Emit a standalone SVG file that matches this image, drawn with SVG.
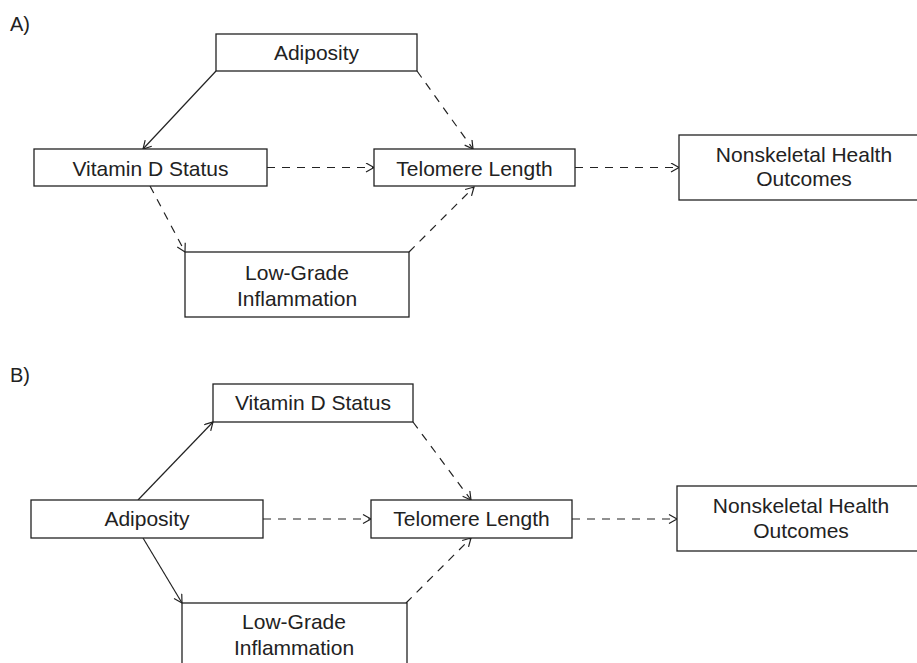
<svg xmlns="http://www.w3.org/2000/svg" width="917" height="663" viewBox="0 0 917 663">
<style>
.box{fill:#fff;stroke:#222;stroke-width:1.3}
.t{font-family:"Liberation Sans",Arial,sans-serif;font-size:21px;fill:#222;text-anchor:middle}
.lbl{font-family:"Liberation Sans",Arial,sans-serif;font-size:20px;fill:#222}
.c{fill:none;stroke:#222;stroke-width:1.2;marker-end:url(#ah)}
.d{stroke-dasharray:8,7}
</style>
<defs>
<marker id="ah" markerUnits="userSpaceOnUse" markerWidth="12" markerHeight="12" refX="9" refY="5" orient="auto">
<path d="M1,0.5 L9,5 L1,9.5" fill="none" stroke="#222" stroke-width="1.2"/>
</marker>
</defs>
<rect width="917" height="663" fill="#fff"/>
<text class="lbl" x="10" y="31">A)</text>
<text class="lbl" x="10" y="382">B)</text>
<g id="connectors">
<line class="c" x1="216" y1="71" x2="143" y2="149"/>
<line class="c d" x1="417" y1="71" x2="473" y2="149"/>
<line class="c d" x1="267" y1="167.5" x2="374" y2="167.5"/>
<line class="c d" x1="575" y1="167.5" x2="679" y2="167.5"/>
<line class="c d" x1="150" y1="186" x2="185" y2="252"/>
<line class="c d" x1="409" y1="252" x2="474" y2="187"/>
<line class="c" x1="138" y1="500" x2="213" y2="422"/>
<line class="c d" x1="413" y1="422" x2="471" y2="500"/>
<line class="c d" x1="263" y1="519" x2="371" y2="519"/>
<line class="c d" x1="572" y1="519" x2="677" y2="519"/>
<line class="c" x1="143" y1="538" x2="182" y2="603"/>
<line class="c d" x1="406" y1="603" x2="471" y2="538"/>
</g>
<g id="a-adiposity"><rect class="box" x="216" y="34" width="201" height="37"/><text class="t" x="316.5" y="60">Adiposity</text></g>
<g id="a-vitd"><rect class="box" x="34" y="149" width="233" height="37"/><text class="t" x="150.5" y="176">Vitamin D Status</text></g>
<g id="a-telomere"><rect class="box" x="374" y="149" width="201" height="37"/><text class="t" x="474.5" y="176">Telomere Length</text></g>
<g id="a-outcomes"><rect class="box" x="679" y="135" width="250" height="65"/><text class="t" x="804" y="162">Nonskeletal Health</text><text class="t" x="804" y="186">Outcomes</text></g>
<g id="a-inflammation"><rect class="box" x="185" y="252" width="224" height="65"/><text class="t" x="297" y="280">Low-Grade</text><text class="t" x="297" y="306">Inflammation</text></g>
<g id="b-vitd"><rect class="box" x="213" y="384" width="200" height="38"/><text class="t" x="313" y="410">Vitamin D Status</text></g>
<g id="b-adiposity"><rect class="box" x="31" y="500" width="232" height="38"/><text class="t" x="147" y="526">Adiposity</text></g>
<g id="b-telomere"><rect class="box" x="371" y="500" width="201" height="38"/><text class="t" x="471.5" y="526">Telomere Length</text></g>
<g id="b-outcomes"><rect class="box" x="677" y="486" width="250" height="65"/><text class="t" x="801" y="513">Nonskeletal Health</text><text class="t" x="801" y="538">Outcomes</text></g>
<g id="b-inflammation"><rect class="box" x="182" y="603" width="225" height="80"/><text class="t" x="294" y="629">Low-Grade</text><text class="t" x="294" y="655">Inflammation</text></g>
</svg>
